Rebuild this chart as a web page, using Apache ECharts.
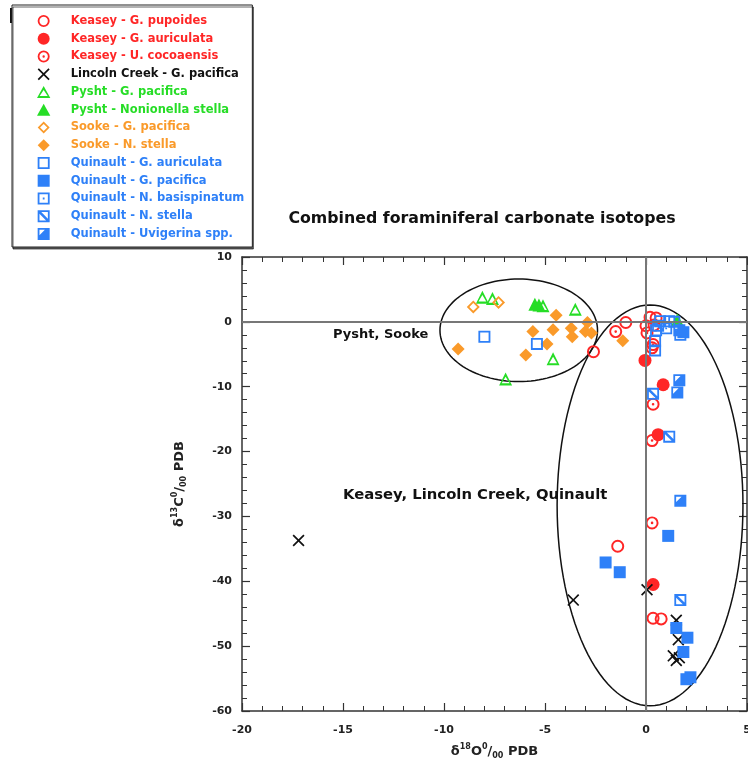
<!DOCTYPE html>
<html><head><meta charset="utf-8">
<script src="https://cdn.jsdelivr.net/npm/echarts@6/dist/echarts.min.js"></script>
<style>html,body{margin:0;padding:0;background:#fff;overflow:hidden}#c{width:748px;height:768px}</style>
</head><body><div id="c"></div>
<script>
// ---- data (x = d18O, y = d13C) ----
const seriesNames = ['Keasey - G. pupoides','Keasey - G. auriculata','Keasey - U. cocoaensis','Lincoln Creek - G. pacifica','Pysht - G. pacifica','Pysht - Nonionella stella','Sooke - G. pacifica','Sooke - N. stella','Quinault - G. auriculata','Quinault - G. pacifica','Quinault - N. basispinatum','Quinault - N. stella','Quinault - Uvigerina spp.'];
const keaseyPupoides = [[-1.0,-0.1],[-2.6,-4.6],[0.2,0.7],[0.5,0.6],[0.0,-0.6],[-1.4,-34.6],[0.35,-45.7],[0.75,-45.8],[0.3,-4.0]];
const keaseyAuriculata = [[-0.05,-5.95],[0.85,-9.7],[0.6,-17.4],[0.35,-40.5]];
const keaseyCocoaensis = [[-1.5,-1.5],[0.05,-1.7],[0.35,-3.5],[0.35,-12.7],[0.3,-18.3],[0.3,-31.0],[0.4,-0.5]];
const lincolnPacifica = [[-17.2,-33.7],[-3.6,-42.9],[0.05,-41.3],[1.5,-46.0],[1.6,-49.0],[1.35,-51.5],[1.65,-51.8],[1.5,-52.2]];
const pyshtPacifica = [[-8.1,3.8],[-7.6,3.6],[-3.5,1.95],[-4.6,-5.7],[-6.95,-8.8],[-5.1,2.5]];
const pyshtStella = [[-5.5,2.7],[-5.3,2.6],[1.55,0.3]];
const sookePacifica = [[-8.55,2.3],[-7.3,3.0]];
const sookeStella = [[-4.45,1.0],[-5.6,-1.5],[-4.6,-1.2],[-3.7,-1.0],[-3.65,-2.3],[-4.9,-3.4],[-5.95,-5.1],[-9.3,-4.2],[-2.9,-0.1],[-3.0,-1.5],[-2.7,-1.7],[-1.15,-2.9]];
const quinaultAuriculata = [[-8.0,-2.3],[-5.4,-3.4],[0.7,0.1],[1.15,0.1],[0.45,-3.0],[0.45,-4.4],[1.7,-2.0]];
const quinaultPacifica = [[-2.0,-37.1],[-1.3,-38.6],[1.1,-33.0],[1.5,-47.2],[2.05,-48.7],[1.85,-50.9],[2.2,-54.8],[2.0,-55.1],[1.85,-1.6]];
const quinaultBasispinatum = [[1.0,-1.0],[1.4,0.0],[0.5,-1.3]];
const quinaultStella = [[0.35,-11.1],[1.15,-17.7],[1.7,-42.9],[0.6,-0.6]];
const quinaultUvigerina = [[1.65,-9.0],[1.55,-10.9],[1.7,-27.6],[1.65,-1.3]];
// ellipses: [cx, cy, rx, ry]
const ellipses = [[-6.3,-1.3,3.9,7.9],[0.2,-28.3,4.6,30.9]];
const xTicks = {min:-20, max:5, interval:5};
const yTicks = {min:-60, max:10, interval:10};

const RED='#ff2626', GREEN='#26dd26', ORANGE='#fa9a2a', BLUE='#2e80f8', BLACK='#111';
const P = {
  openCircle:'path://M10 0A10 10 0 1 1 10 20A10 10 0 1 1 10 0ZM10 3A7 7 0 1 0 10 17A7 7 0 1 0 10 3Z',
  dotCircle:'path://M10 0A10 10 0 1 1 10 20A10 10 0 1 1 10 0ZM10 3A7 7 0 1 0 10 17A7 7 0 1 0 10 3ZM10 8A2 2 0 1 1 10 12A2 2 0 1 1 10 8Z',
  cross:'path://M2 0L10 8L18 0L20 2L12 10L20 18L18 20L10 12L2 20L0 18L8 10L0 2Z',
  openTri:'path://M10 1L20 19L0 19ZM10 7L4 16L16 16Z',
  tri:'path://M10 1L20 19L0 19Z',
  openDiamond:'path://M10 0L20 10L10 20L0 10ZM10 4L4 10L10 16L16 10Z',
  diamond:'path://M10 0L20 10L10 20L0 10Z',
  openSquare:'path://M0 0H20V20H0ZM3 3V17H17V3Z',
  square:'path://M0 0H20V20H0Z',
  dotSquare:'path://M0 0H20V20H0ZM3 3V17H17V3ZM8.5 8.5H11.5V11.5H8.5Z',
  diagSquare:'path://M0 0H20V20H0ZM3 3V17H17V3ZM3 3L6 3L17 14L17 17L14 17L3 6Z',
  cornerSquare:'path://M0 0H20V20H0ZM3 3L3 12L12 3Z'
};
const defs = [
  [keaseyPupoides, RED, P.openCircle, 13],
  [keaseyAuriculata, RED, 'circle', 13],
  [keaseyCocoaensis, RED, P.dotCircle, 13],
  [lincolnPacifica, BLACK, P.cross, 12],
  [pyshtPacifica, GREEN, P.openTri, 13],
  [pyshtStella, GREEN, P.tri, 13],
  [sookePacifica, ORANGE, P.openDiamond, 13],
  [sookeStella, ORANGE, P.diamond, 13],
  [quinaultAuriculata, BLUE, P.openSquare, 12],
  [quinaultPacifica, BLUE, P.square, 12],
  [quinaultBasispinatum, BLUE, P.dotSquare, 12],
  [quinaultStella, BLUE, P.diagSquare, 12],
  [quinaultUvigerina, BLUE, P.cornerSquare, 12]
];

const chart = echarts.init(document.getElementById('c'), null, {renderer:'canvas'});
const font = 'DejaVu Sans, Verdana, sans-serif';
const series = defs.map((d,i)=>({
  name: seriesNames[i], type:'scatter', data:d[0], symbol:d[2], symbolSize:d[3],
  itemStyle:{color:d[1], opacity:1}, z:3, silent:true
}));
series.unshift({
  type:'custom', silent:true, z:2, data: ellipses,
  renderItem:(params, api)=>{
    const cx=api.value(0), cy=api.value(1), rx=api.value(2), ry=api.value(3);
    const pts=[];
    for(let k=0;k<=120;k++){const t=k/120*Math.PI*2; pts.push(api.coord([cx+rx*Math.cos(t), cy+ry*Math.sin(t)]));}
    return {type:'polyline', shape:{points:pts}, style:{stroke:'#111', lineWidth:1.5, fill:null}};
  },
  markLine:{silent:true, symbol:'none', label:{show:false}, animation:false,
    lineStyle:{color:'#777', width:2, type:'solid'}, data:[{xAxis:0},{yAxis:0}]}
});

const axisCommon = {
  axisLine:{onZero:false, lineStyle:{color:'#333', width:1.5}},
  axisTick:{inside:true, length:8, lineStyle:{color:'#333', width:1.2}},
  minorTick:{show:true, splitNumber:5, length:5, lineStyle:{color:'#333', width:1}},
  splitLine:{show:false}
};
const sup = {fontSize:8, fontWeight:'bold', fontFamily:font, color:'#222', padding:[0,0,9,0]};
const sub = {fontSize:8, fontWeight:'bold', fontFamily:font, color:'#222', padding:[9,0,0,0]};
const base = {fontSize:13, fontWeight:'bold', fontFamily:font, color:'#222'};

chart.setOption({
  animation:false,
  backgroundColor:'#fff',
  title:{text:'Combined foraminiferal carbonate isotopes', left:477, top:206, textAlign:'center',
    textStyle:{fontSize:15.8, fontWeight:'bold', fontFamily:font, color:'#111'}},
  legend:{orient:'vertical', left:12, top:5, padding:[9,8,6,25], itemGap:3.75, itemWidth:14, itemHeight:12,
    backgroundColor:'#fff', borderColor:'#222', borderWidth:1,
    shadowColor:'rgba(0,0,0,0.6)', shadowOffsetX:1, shadowOffsetY:2, shadowBlur:0,
    selectedMode:false,
    textStyle:{fontSize:11.5, lineHeight:14, fontWeight:'bold', fontFamily:font, padding:[0,0,0,15]},
    data: seriesNames.map((n,i)=>({name:n, textStyle:{color: defs[i][1]}}))},
  grid:{left:242, right:1, top:257, bottom:57, outerBoundsMode:'none', containLabel:false},
  xAxis:[Object.assign({type:'value', min:xTicks.min, max:xTicks.max, interval:xTicks.interval, position:'bottom',
      axisLabel:{fontSize:11, fontWeight:'bold', fontFamily:font, color:'#222', margin:14},
      name:'{b|δ}{s|18}{b|O}{s|0}{b|/}{u|00}{b| PDB}', nameLocation:'middle', nameGap:32,
      nameTextStyle:{rich:{b:base, s:sup, u:sub}}}, axisCommon),
    Object.assign({type:'value', min:xTicks.min, max:xTicks.max, interval:xTicks.interval, position:'top',
      axisLabel:{show:false}}, axisCommon)],
  yAxis:[Object.assign({type:'value', min:yTicks.min, max:yTicks.max, interval:yTicks.interval, position:'left',
      axisLabel:{fontSize:11, fontWeight:'bold', fontFamily:font, color:'#222', margin:10},
      name:'{b|δ}{s|13}{b|C}{s|0}{b|/}{u|00}{b| PDB}', nameLocation:'middle', nameGap:54, nameRotate:90,
      nameTextStyle:{rich:{b:base, s:sup, u:sub}}}, axisCommon),
    Object.assign({type:'value', min:yTicks.min, max:yTicks.max, interval:yTicks.interval, position:'right',
      axisLabel:{show:false}}, axisCommon)],
  graphic:[
    {type:'rect', left:10, top:8, shape:{width:3, height:15}, style:{fill:'#111'}},
    {type:'text', left:333, top:328, style:{text:'Pysht, Sooke', font:'bold 13px '+font, fill:'#111'}},
    {type:'text', left:343, top:488, style:{text:'Keasey, Lincoln Creek, Quinault', font:'bold 14.8px '+font, fill:'#111'}}
  ],
  series: series
});
</script></body></html>
